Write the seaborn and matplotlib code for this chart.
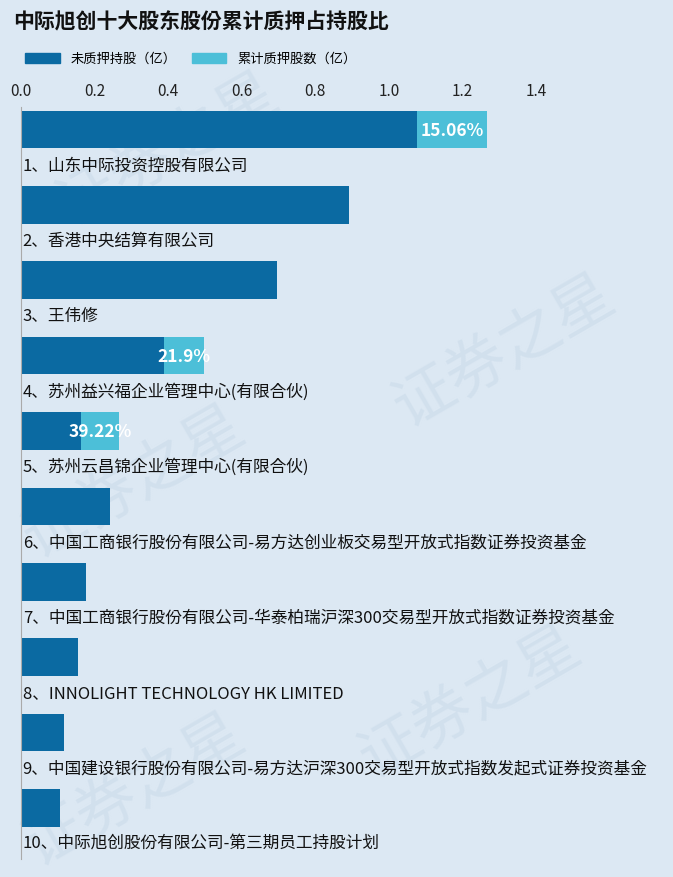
import matplotlib.pyplot as plt
import matplotlib.patches as mpatches
from matplotlib import font_manager
import seaborn as sns
import pandas as pd

cjk = [f.name for f in font_manager.fontManager.ttflist if 'CJK' in f.name]
cjk_font = 'Noto Sans CJK SC' if 'Noto Sans CJK SC' in cjk else (cjk[0] if cjk else 'DejaVu Sans')
plt.rcParams['font.family'] = 'sans-serif'
plt.rcParams['font.sans-serif'] = [cjk_font, 'DejaVu Sans']

holders = [
    '1、山东中际投资控股有限公司',
    '2、香港中央结算有限公司',
    '3、王伟修',
    '4、苏州益兴福企业管理中心(有限合伙)',
    '5、苏州云昌锦企业管理中心(有限合伙)',
    '6、中国工商银行股份有限公司-易方达创业板交易型开放式指数证券投资基金',
    '7、中国工商银行股份有限公司-华泰柏瑞沪深300交易型开放式指数证券投资基金',
    '8、INNOLIGHT TECHNOLOGY HK LIMITED',
    '9、中国建设银行股份有限公司-易方达沪深300交易型开放式指数发起式证券投资基金',
    '10、中际旭创股份有限公司-第三期员工持股计划',
]
unpledged = [1.076, 0.892, 0.696, 0.389, 0.163, 0.242, 0.177, 0.155, 0.117, 0.106]
pledged = [0.191, 0, 0, 0.109, 0.104, 0, 0, 0, 0, 0]
pct_labels = ['15.06%', '', '', '21.9%', '39.22%', '', '', '', '', '']

dark = '#0b6aa2'
light = '#4cbfd8'
bg = '#dce8f3'

df = pd.DataFrame({'holder': holders, 'unpledged': unpledged, 'pledged': pledged})
df['total'] = df['unpledged'] + df['pledged']

fig = plt.figure(figsize=(6.73, 8.78), dpi=100, facecolor=bg)
ax = fig.add_axes([0.031, 0.0205, 0.969, 0.8565])
ax.set_facecolor('none')

sns.barplot(data=df, x='total', y='holder', color=light, width=0.5, ax=ax, saturation=1)
sns.barplot(data=df, x='unpledged', y='holder', color=dark, width=0.5, ax=ax, saturation=1)

for i, row in df.iterrows():
    ax.text(0.005, i + 0.47, row['holder'], va='center', ha='left', fontsize=12, color='#111111')
    if pct_labels[i]:
        ax.text(row['unpledged'] + row['pledged'] / 2, i, pct_labels[i], ha='center', va='center',
                color='white', fontsize=12.5, fontweight='bold')

ax.set_xlim(0, 1.772)
ax.set_ylim(9.68, -0.30)
ax.set_xticks([0, 0.2, 0.4, 0.6, 0.8, 1.0, 1.2, 1.4])
ax.set_xticklabels(['0.0', '0.2', '0.4', '0.6', '0.8', '1.0', '1.2', '1.4'])
ax.xaxis.tick_top()
ax.tick_params(axis='x', length=0, labelsize=11, colors='#222222', pad=6)
ax.set_yticks([])
ax.set_xlabel('')
ax.set_ylabel('')
for s in ['top', 'right', 'bottom']:
    ax.spines[s].set_visible(False)
ax.spines['left'].set_color('#aaaaaa')

# watermark
for (x, y) in [(0.25, 0.83), (0.75, 0.6), (0.2, 0.45), (0.7, 0.2), (0.2, 0.1)]:
    fig.text(x, y, '证券之星', fontsize=44, rotation=30, color='#cbdbea', alpha=0.6,
             ha='center', va='center', zorder=-5)

fig.text(0.02, 0.975, '中际旭创十大股东股份累计质押占持股比', fontsize=15, fontweight='bold',
         va='center', ha='left', color='#111111')
handles = [mpatches.Patch(color=dark, label='未质押持股（亿）'),
           mpatches.Patch(color=light, label='累计质押股数（亿）')]
fig.legend(handles=handles, loc='center left', bbox_to_anchor=(0.02, 0.932), ncol=2, frameon=False,
           fontsize=9.5, handlelength=2.6, handleheight=0.8, columnspacing=1.2)

fig.savefig('out.png', dpi=100, facecolor=bg)
